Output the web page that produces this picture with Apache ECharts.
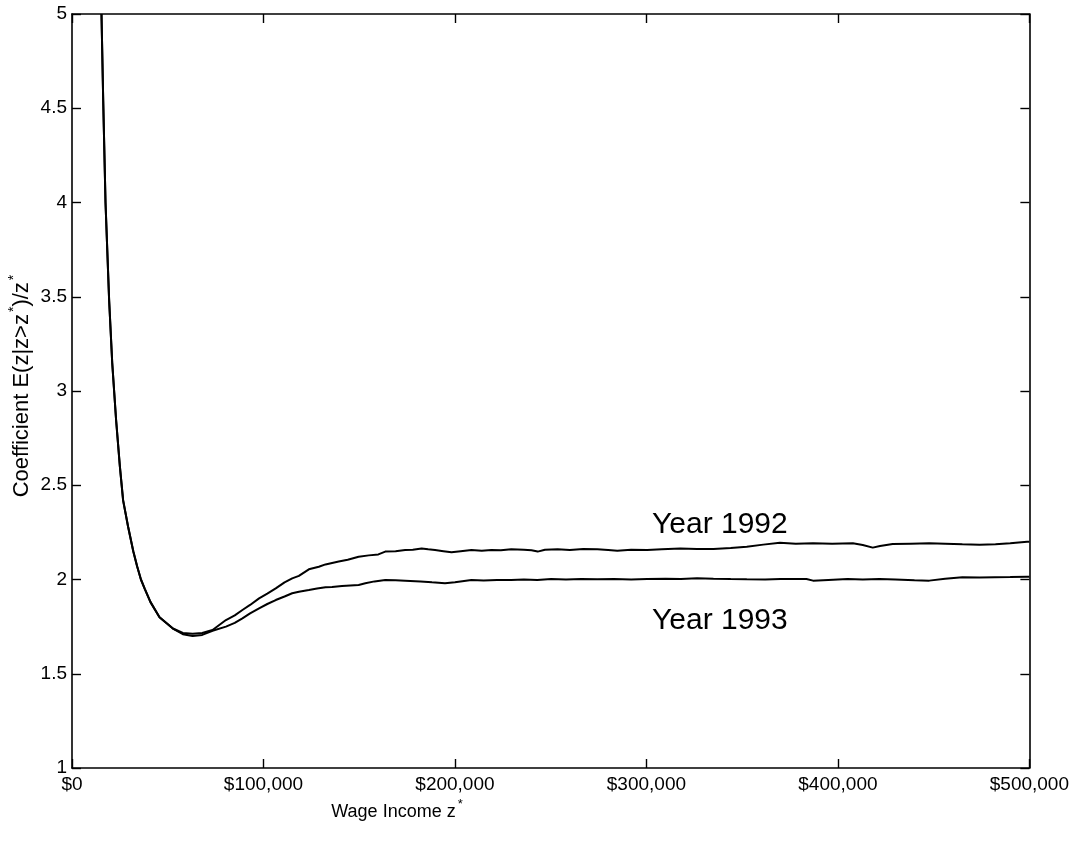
<!DOCTYPE html>
<html>
<head>
<meta charset="utf-8">
<script src="https://cdn.jsdelivr.net/npm/echarts@6/dist/echarts.min.js"></script>
<style>
html,body{margin:0;padding:0;background:#fff;}
#chart{width:1072px;height:843px;}
</style>
</head>
<body>
<div id="chart"></div>
<script>
// Wage income z* in $ thousands, and coefficient E(z|z>z*)/z*
const income1992 = [15.4,16.3,17.5,19.4,21,23,25,26.7,29.3,32,34,36,38,41,45.7,52.7,57.9,63,68,73.4,80.4,85,89,93,97.7,102,106.4,111,115,118.5,123.7,128.9,132.4,139.3,144,149.7,155,160,161,163.6,169,174,178,182.6,186,189.6,194,198.2,203,208.6,214,219,224,229.4,236,240,243.2,247,253.6,260,267,274.4,280,284.8,292,300.4,308,317.7,326.4,335,344,352.4,361,369.7,378,387,397,407.8,413,418.2,422,428.6,438,447.7,456,465,474,482.3,490,498.8,500];
const coef1992 = [5.00,4.54,4.00,3.48,3.15,2.85,2.60,2.42,2.28,2.15,2.07,2.00,1.95,1.88,1.80,1.74,1.716,1.712,1.716,1.732,1.785,1.81,1.838,1.865,1.90,1.925,1.953,1.985,2.006,2.019,2.054,2.068,2.08,2.095,2.105,2.121,2.128,2.133,2.128,2.148,2.150,2.156,2.158,2.165,2.160,2.156,2.150,2.144,2.150,2.156,2.152,2.156,2.155,2.160,2.158,2.155,2.148,2.158,2.160,2.157,2.162,2.160,2.157,2.153,2.158,2.156,2.160,2.165,2.162,2.162,2.167,2.174,2.185,2.195,2.190,2.192,2.189,2.192,2.183,2.169,2.178,2.188,2.190,2.192,2.190,2.187,2.185,2.187,2.192,2.200,2.200];

const income1993 = [15.4,16.3,17.5,19.4,21,23,25,26.7,29.3,32,34,36,38,41,45.7,52.7,57.9,63,68,73.4,80.4,85,89,93,97.7,102,106.4,111,115,118.5,123.7,128,132.4,135.8,141,149.7,153.2,158,163.6,169,174,182,188,194.8,200,208.6,215,222,229.4,236,243,250.2,258,266,274.4,283,292,300.4,310,318,326.4,335,344,352.4,362,370,383.6,387,395,405,413,421.7,430,440,447.7,456,465,474,482,490,498.8,500];
const coef1993 = [5.00,4.54,4.00,3.48,3.15,2.85,2.60,2.42,2.28,2.15,2.07,2.00,1.95,1.88,1.80,1.74,1.71,1.700,1.706,1.728,1.75,1.77,1.794,1.82,1.847,1.87,1.891,1.91,1.927,1.935,1.944,1.952,1.959,1.960,1.966,1.971,1.980,1.990,1.997,1.996,1.994,1.99,1.985,1.980,1.985,1.997,1.995,1.997,1.997,2.000,1.997,2.003,2.000,2.002,2.001,2.003,2.000,2.003,2.004,2.002,2.006,2.004,2.002,2.001,2.000,2.002,2.003,1.994,1.998,2.002,2.000,2.003,2.000,1.996,1.994,2.004,2.012,2.010,2.012,2.013,2.015,2.015];

const xTicks = [0,100000,200000,300000,400000,500000];
const xTickLabels = ['$0','$100,000','$200,000','$300,000','$400,000','$500,000'];
const yTicks = [1,1.5,2,2.5,3,3.5,4,4.5,5];
const seriesNames = ['Year 1992','Year 1993'];

function pairs(xs, ys){ return xs.map((x,i)=>[x*1000, ys[i]]); }

const FONT = 'Liberation Sans, Arial, Helvetica, sans-serif';
const chart = echarts.init(document.getElementById('chart'), null, {renderer:'canvas'});

function axisCommon(){
  return {
    axisLine:{show:true, onZero:false, lineStyle:{color:'#000', width:1.6}},
    axisTick:{show:true, inside:true, length:9, lineStyle:{color:'#000', width:1.4}},
    splitLine:{show:false}
  };
}

const option = {
  backgroundColor:'#fff',
  animation:false,
  grid:{left:72, right:38, top:14, bottom:75, containLabel:false},
  xAxis:[
    Object.assign({type:'value', position:'bottom', min:0, max:500000, interval:100000,
      axisLabel:{color:'#000', fontSize:19, fontFamily:FONT, margin:7,
        formatter:(v)=>{const i=xTicks.indexOf(v); return i>=0?xTickLabels[i]:'';}}}, axisCommon()),
    Object.assign({type:'value', position:'top', min:0, max:500000, interval:100000,
      axisLabel:{show:false}}, axisCommon())
  ],
  yAxis:[
    Object.assign({type:'value', position:'left', min:1, max:5, interval:0.5,
      axisLabel:{color:'#000', fontSize:19, fontFamily:FONT, margin:5,
        formatter:(v)=> yTicks.indexOf(v)>=0 ? String(v) : ''}}, axisCommon()),
    Object.assign({type:'value', position:'right', min:1, max:5, interval:0.5,
      axisLabel:{show:false}}, axisCommon())
  ],
  series:[
    {name:seriesNames[0], type:'line', xAxisIndex:0, yAxisIndex:0, data:pairs(income1992, coef1992),
      showSymbol:false, smooth:false, clip:true, lineStyle:{color:'#000', width:2}},
    {name:seriesNames[1], type:'line', xAxisIndex:0, yAxisIndex:0, data:pairs(income1993, coef1993),
      showSymbol:false, smooth:false, clip:true, lineStyle:{color:'#000', width:2}}
  ],
  graphic:[
    {type:'text', left:652, top:510, style:{text:seriesNames[0], fill:'#000', font:'30px '+FONT}},
    {type:'text', left:652, top:606, style:{text:seriesNames[1], fill:'#000', font:'30px '+FONT}},
    {type:'text', x:397, y:812, style:{
      text:'Wage Income z{s|*}', fill:'#000', font:'18px '+FONT, align:'center', verticalAlign:'middle',
      rich:{s:{fontSize:13, fontFamily:FONT, fill:'#000', verticalAlign:'top', lineHeight:28, padding:[0,0,0,2]}}}},
    {type:'text', x:22, y:386, rotation:Math.PI/2, style:{
      text:'Coefficient E(z|z>z{s|*})/z{s|*}', fill:'#000', font:'22px '+FONT, align:'center', verticalAlign:'middle',
      rich:{s:{fontSize:14, fontFamily:FONT, fill:'#000', verticalAlign:'top', lineHeight:30, padding:[0,0,0,2]}}}}
  ]
};
chart.setOption(option);
</script>
</body>
</html>
